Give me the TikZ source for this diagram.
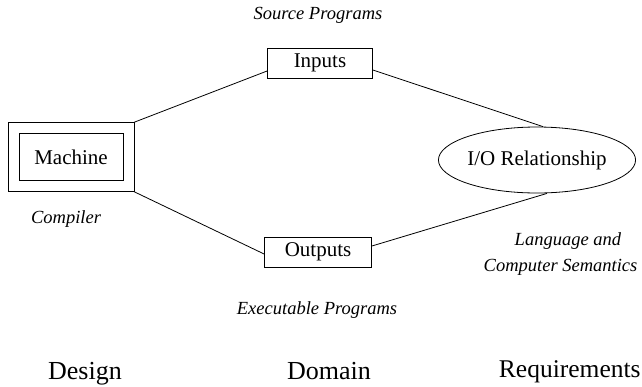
\documentclass[tikz,border=0pt]{standalone}
\usepackage{fontspec}
\setmainfont{Liberation Serif}
\usetikzlibrary{positioning,shapes,fit}

\begin{document}
\begin{tikzpicture}[
        x=1pt, y=-1pt, line width=0.8pt,
        block/.style = {rectangle, draw, font=\fontsize{21}{25}\selectfont, inner sep=0pt},
        relation/.style = {ellipse, draw, font=\fontsize{21}{25}\selectfont, inner sep=0pt, minimum width=191pt, minimum height=66pt},
        note/.style = {font=\fontsize{18.5}{22}\selectfont\itshape, align=center},
        area/.style = {font=\fontsize{26}{30}\selectfont, anchor=base},
        line/.style = {draw}
    ]
    \useasboundingbox (0,0) rectangle (642,386);

    \node [block, minimum width=104pt, minimum height=47pt] (machine) at (71,157) {Machine};
    \node [draw, fit=(machine), inner sep=10.5pt] (machinebox) {};
    \node [block, minimum width=105pt, minimum height=30pt] (inputs) at (320,63) {Inputs};
    \node [block, minimum width=107pt, minimum height=30pt] (outputs) at (318,252) {Outputs};
    \node [relation] (io) at (537,160) {I/O Relationship};

    \node [note] (source) at (318,15) {Source Programs};
    \node [note] (compiler) at (66,219) {Compiler};
    \node [note] (exec) at (317,310) {Executable Programs};
    \node [note, align=left, anchor=west] (semantics) at (480,254) {\hspace*{31pt}Language and\\[4pt]Computer Semantics};

    \node [area] (design) at (85,379) {Design};
    \node [area] (domain) at (329,379) {Domain};
    \node [area, font=\fontsize{25.5}{30}\selectfont, anchor=base east, inner xsep=1pt] (req) at (642,377) {Requirements};

    \path [line] (machinebox.north east) -- ([yshift=-8pt]inputs.west);
    \path [line] ([yshift=-7pt]inputs.east) -- ([xshift=6pt]io.north);
    \path [line] (machinebox.south east) -- ([yshift=-2pt]outputs.west);
    \path [line] ([yshift=6pt]outputs.east) -- ([xshift=10pt]io.south);

\end{tikzpicture}
\end{document}
